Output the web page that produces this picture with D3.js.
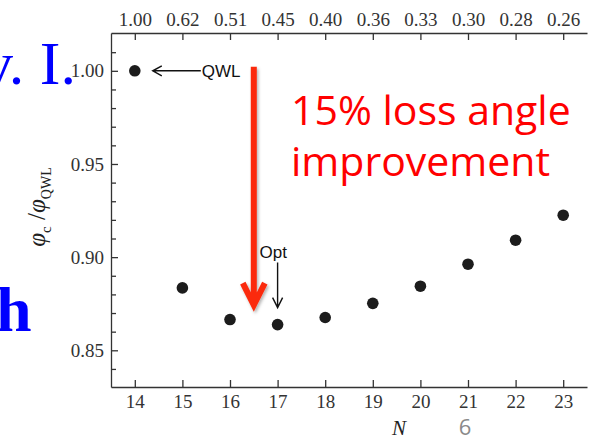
<!DOCTYPE html>
<html>
<head>
<meta charset="utf-8">
<script src="https://cdn.jsdelivr.net/npm/d3@7"></script>
<style>
	body { margin: 0; background: #fff; }
	svg { display: block; }
</style>
</head>
<body>
<div id="chart"></div>
<script>
// values
const nValues = [14, 15, 16, 17, 18, 19, 20, 21, 22, 23];
const phiRatio = [1.000, 0.8835, 0.8665, 0.8638, 0.8676, 0.8752, 0.8844, 0.8962, 0.9091, 0.9225];
const topTickLabels = ["1.00", "0.62", "0.51", "0.45", "0.40", "0.36", "0.33", "0.30", "0.28", "0.26"];
const yMajorTicks = [0.85, 0.90, 0.95, 1.00];
const yMinorTicks = [0.84, 0.86, 0.87, 0.88, 0.89, 0.91, 0.92, 0.93, 0.94, 0.96, 0.97, 0.98, 0.99, 1.01];

const width = 596, height = 440;
const margin = { top: 33, right: 9, bottom: 53, left: 111 };
const serif = '"Liberation Serif", "Times New Roman", serif';

const svg = d3.select('#chart').append('svg')
	.attr('width', width)
	.attr('height', height);

const defs = svg.append('defs');
defs.append('filter')
	.attr('id', 'shadow')
	.attr('x', '-50%').attr('y', '-10%')
	.attr('width', '200%').attr('height', '130%')
	.append('feDropShadow')
	.attr('dx', 1.5).attr('dy', 2)
	.attr('stdDeviation', 1.5)
	.attr('flood-color', '#000')
	.attr('flood-opacity', 0.3);

const innerW = width - margin.left - margin.right;
const innerH = height - margin.top - margin.bottom;

const chart = svg.append('g')
	.attr('transform', `translate(${margin.left}, ${margin.top})`);

const xScale = d3.scaleLinear().domain([13.5, 23.5]).range([0, innerW]);
const yScale = d3.scaleLinear().domain([0.8303, 1.0203]).range([innerH, 0]);

function styleAxis(g) {
	g.selectAll('path, line').style('stroke', '#333').style('stroke-width', '1.3px');
	g.selectAll('text')
		.style('font-family', serif)
		.style('font-size', '19px')
		.style('fill', '#333');
}

// bottom axis
chart.append('g')
	.attr('class', 'axis x-axis')
	.attr('transform', `translate(0, ${innerH})`)
	.call(d3.axisBottom(xScale).tickValues(nValues).tickFormat(d3.format('d'))
		.tickSizeInner(-7).tickSizeOuter(0).tickPadding(8))
	.call(styleAxis);

// top axis
chart.append('g')
	.attr('class', 'axis top-axis')
	.call(d3.axisTop(xScale).tickValues(nValues).tickFormat((d, i) => topTickLabels[i])
		.tickSizeInner(-7).tickSizeOuter(0).tickPadding(7))
	.call(styleAxis);

// left axis, major + minor ticks
chart.append('g')
	.attr('class', 'axis y-axis')
	.call(d3.axisLeft(yScale).tickValues(yMajorTicks).tickFormat(d3.format('.2f'))
		.tickSizeInner(-7).tickSizeOuter(0).tickPadding(7))
	.call(styleAxis);

chart.append('g')
	.attr('class', 'axis y-minor')
	.call(d3.axisLeft(yScale).tickValues(yMinorTicks).tickFormat('')
		.tickSizeInner(-5).tickSizeOuter(0))
	.call(styleAxis)
	.select('.domain').remove();

// axis titles
svg.append('text')
	.attr('x', 399)
	.attr('y', 435)
	.attr('text-anchor', 'middle')
	.style('font-family', serif)
	.style('font-style', 'italic')
	.style('font-size', '21px')
	.style('fill', '#222')
	.text('N');

const yTitle = svg.append('text')
	.attr('transform', 'translate(45, 207) rotate(-90)')
	.attr('text-anchor', 'middle')
	.style('font-family', serif)
	.style('font-size', '25px')
	.style('fill', '#222');
yTitle.append('tspan').style('font-style', 'italic').text('φ');
yTitle.append('tspan').attr('dy', 6).style('font-size', '15px').text('c');
yTitle.append('tspan').attr('dy', -6).text(' /');
yTitle.append('tspan').style('font-style', 'italic').text('φ');
yTitle.append('tspan').attr('dy', 6).style('font-size', '14px').text('QWL');

// data points
chart.selectAll('circle.pt')
	.data(nValues)
	.join('circle')
	.attr('class', 'pt')
	.attr('cx', d => xScale(d))
	.attr('cy', (d, i) => yScale(phiRatio[i]))
	.attr('r', 5.8)
	.attr('fill', '#1c1c1c');

// QWL annotation
const qx = xScale(nValues[0]), qy = yScale(phiRatio[0]);
chart.append('path')
	.attr('d', `M${qx + 66},${qy} H${qx + 18} M${qx + 27},${qy - 5} L${qx + 18},${qy} L${qx + 27},${qy + 5}`)
	.attr('fill', 'none')
	.attr('stroke', '#111')
	.attr('stroke-width', 1.5);
chart.append('text')
	.attr('x', qx + 67)
	.attr('y', qy)
	.attr('dy', '0.36em')
	.style('font-family', '"Liberation Sans", Arial, sans-serif')
	.style('font-size', '17px')
	.style('fill', '#111')
	.text('QWL');

// Opt annotation
const ox = xScale(nValues[3]), oy = yScale(phiRatio[3]);
chart.append('path')
	.attr('d', `M${ox},${oy - 62} V${oy - 17} M${ox - 5},${oy - 27} L${ox},${oy - 17} L${ox + 5},${oy - 27}`)
	.attr('fill', 'none')
	.attr('stroke', '#111')
	.attr('stroke-width', 1.4);
chart.append('text')
	.attr('x', ox - 18)
	.attr('y', oy - 67)
	.style('font-family', '"Liberation Sans", Arial, sans-serif')
	.style('font-size', '17px')
	.style('fill', '#111')
	.text('Opt');

// big red arrow from QWL level down
const rx = xScale(16.5);
const tipY = yScale(0.8743), armY = yScale(0.8861);
chart.append('path')
	.attr('d', `M${rx},${yScale(1.0) - 4} V${tipY - 3} M${rx - 11},${armY} L${rx},${tipY} L${rx + 11},${armY}`)
	.attr('fill', 'none')
	.attr('stroke', '#fb2c10')
	.attr('stroke-width', 6)
	.attr('stroke-linejoin', 'miter')
	.attr('filter', 'url(#shadow)');

// red caption
const caption = svg.append('text')
	.style('font-family', '"Open Sans", sans-serif')
	.style('font-size', '41px')
	.style('fill', '#ff0000');
caption.append('tspan').attr('x', 291).attr('y', 125).text('15% loss angle');
caption.append('tspan').attr('x', 291).attr('y', 176).text('improvement');

// slide fragments
svg.append('text')
	.attr('x', 76).attr('y', 84)
	.attr('text-anchor', 'end')
	.style('font-family', serif)
	.style('font-size', '62px')
	.style('fill', '#0000ff')
	.text('v. I.');
svg.append('text')
	.attr('x', -4).attr('y', 331)
	.style('font-family', serif)
	.style('font-weight', 'bold')
	.style('font-size', '64px')
	.style('fill', '#0000ff')
	.text('h');

svg.append('text')
	.attr('x', 465).attr('y', 435)
	.attr('text-anchor', 'middle')
	.style('font-family', '"Open Sans", sans-serif')
	.style('font-size', '22px')
	.style('fill', '#8a8a8a')
	.text('6');
</script>
</body>
</html>
